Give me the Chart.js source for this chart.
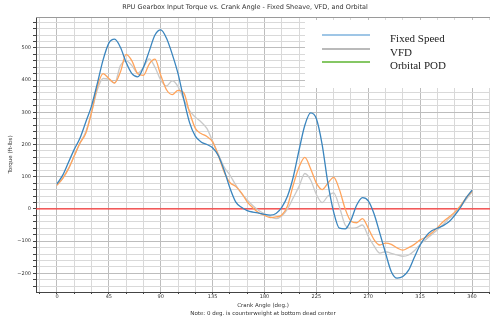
<!DOCTYPE html>
<html>
<head>
<meta charset="utf-8">
<script src="https://cdn.jsdelivr.net/npm/chart.js@4"></script>
<style>
  body { margin: 0; background: #fff; }
  #wrap { width: 490px; height: 320px; position: relative; }
</style>
</head>
<body>
<div id="wrap"><canvas id="torqueChart"></canvas></div>
<script>
// crank angle, degrees
const crankAngle = [0, 5, 10, 15, 20, 25, 30, 35, 40, 45, 50, 55, 60, 65, 70, 75, 80, 85, 90, 95,
    100, 105, 110, 115, 120, 125, 130, 135, 140, 145, 150, 155, 160, 165, 170, 175, 180, 185, 190, 195,
    200, 205, 210, 215, 220, 225, 230, 235, 240, 245, 250, 255, 260, 265, 270, 275, 280, 285, 290, 295,
    300, 305, 310, 315, 320, 325, 330, 335, 340, 345, 350, 355, 360];

const fixedSpeed = [78, 105, 145, 185, 220, 270, 320, 390, 463, 515, 527, 502, 455, 420, 410, 440, 490, 540, 556, 530,
    480, 420, 340, 268, 226, 208, 200, 190, 165, 120, 65, 22, 5, -5, -10, -13, -17, -19, -14, 5,
    40, 100, 183, 260, 298, 280, 200, 80, -10, -60, -62, -35, 12, 35, 25, -15, -75, -137, -195, -215,
    -210, -190, -150, -112, -85, -68, -60, -52, -40, -20, 5, 35, 58];

const vfdOrange = [73, 95, 125, 165, 205, 235, 300, 380, 420, 405, 391, 425, 480, 460, 420, 415, 450, 465, 415, 370,
    355, 368, 360, 300, 250, 234, 225, 208, 165, 115, 82, 70, 50, 22, 3, -12, -20, -27, -25, -19,
    10, 75, 130, 160, 125, 80, 60, 80, 98, 60, 0, -38, -43, -30, -60, -95, -112, -106, -110, -121,
    -128, -120, -110, -96, -88, -75, -58, -40, -25, -10, 10, 35, 55];

const orbitalGray = [75, 95, 125, 165, 205, 240, 300, 370, 405, 402, 391, 445, 460, 445, 422, 440, 466, 440, 400, 382,
    398, 380, 340, 305, 285, 270, 250, 210, 170, 130, 105, 75, 48, 28, 10, -5, -15, -25, -30, -22,
    0, 35, 70, 110, 90, 45, 20, 40, 50, 6, -50, -60, -58, -50, -85, -115, -137, -133, -138, -143,
    -147, -143, -130, -110, -95, -80, -65, -48, -30, -15, 5, 30, 52];

const xTickLabels = [0, 45, 90, 135, 180, 225, 270, 315, 360];
const yTickLabels = [-200, -100, 0, 100, 200, 300, 400, 500];
const legendLabels = ['Fixed Speed', 'VFD', 'Orbital POD'];
const legendColors = ['#7fb3de', '#a3a3a3', '#5cb531'];

const toPoints = vals => crankAngle.map((a, i) => ({ x: a, y: vals[i] }));

const xMinor = [];
for (let v = -15; v <= 375; v += 15) xMinor.push(v);
const yMinor = [];
for (let v = -240; v <= 580; v += 20) yMinor.push(v);

// red zero line
const zeroLine = {
    id: 'zeroLine',
    beforeDatasetsDraw(chart) {
        const { ctx, chartArea, scales } = chart;
        const y = scales.y.getPixelForValue(0);
        ctx.save();
        ctx.strokeStyle = '#ff3b3b';
        ctx.lineWidth = 1.4;
        ctx.beginPath();
        ctx.moveTo(chartArea.left, y);
        ctx.lineTo(chartArea.right, y);
        ctx.stroke();
        // top spine
        ctx.strokeStyle = '#9a9a9a';
        ctx.lineWidth = 1;
        ctx.beginPath();
        ctx.moveTo(chartArea.left, chartArea.top + 0.5);
        ctx.lineTo(chartArea.right, chartArea.top + 0.5);
        ctx.stroke();
        ctx.restore();
    }
};

// legend box inside the plot, top right
const boxLegend = {
    id: 'boxLegend',
    afterDraw(chart) {
        const { ctx } = chart;
        ctx.save();
        ctx.fillStyle = '#fff';
        ctx.fillRect(305, 20, 190, 68);
        ctx.font = '11px "Liberation Serif", "Times New Roman", serif';
        ctx.textBaseline = 'middle';
        ctx.textAlign = 'left';
        const rows = [35, 49, 62];
        legendLabels.forEach((lab, i) => {
            ctx.strokeStyle = legendColors[i];
            ctx.lineWidth = 1.5;
            ctx.beginPath();
            ctx.moveTo(322, rows[i]);
            ctx.lineTo(370, rows[i]);
            ctx.stroke();
            ctx.fillStyle = '#222';
            ctx.fillText(lab, 390, rows[i] + 4);
        });
        ctx.restore();
    }
};

const ctx = document.getElementById('torqueChart').getContext('2d');
new Chart(ctx, {
    type: 'line',
    data: {
        datasets: [
            { label: 'Fixed Speed', data: toPoints(fixedSpeed), borderColor: '#3a85be', order: 1 },
            { label: 'VFD', data: toPoints(vfdOrange), borderColor: '#ffa45c', order: 2 },
            { label: 'Orbital POD', data: toPoints(orbitalGray), borderColor: '#c9c9c9', order: 3 }
        ]
    },
    options: {
        responsive: true,
        maintainAspectRatio: false,
        animation: false,
        layout: { padding: 0 },
        elements: {
            point: { radius: 0 },
            line: { borderWidth: 1.3, cubicInterpolationMode: 'monotone', fill: false }
        },
        plugins: {
            legend: { display: false },
            tooltip: { enabled: false },
            title: {
                display: true,
                text: 'RPU Gearbox Input Torque vs. Crank Angle - Fixed Sheave, VFD, and Orbital',
                color: '#333',
                font: { family: 'DejaVu Sans', size: 6.5, weight: 'normal', lineHeight: 1.2 },
                padding: { top: 3, bottom: 6.2 }
            }
        },
        scales: {
            x: {
                type: 'linear',
                min: -18.2,
                max: 375.6,
                afterBuildTicks: s => { s.ticks = xMinor.map(v => ({ value: v })); },
                afterFit: s => { s.height = 28; },
                ticks: {
                    autoSkip: false,
                    maxRotation: 0,
                    padding: 0,
                    color: '#333',
                    font: { family: 'DejaVu Sans', size: 5 },
                    callback: v => xTickLabels.includes(v) ? String(v) : ''
                },
                grid: {
                    color: c => (c.tick && c.tick.value % 45 === 0) ? '#bdbdbd' : '#d9d9d9',
                    tickColor: '#444',
                    tickLength: 2
                },
                border: { color: '#444', width: 1 },
                title: {
                    display: true,
                    text: ['Crank Angle (deg.)', 'Note: 0 deg. is counterweight at bottom dead center'],
                    color: '#333',
                    font: { family: 'DejaVu Sans', size: 5.5, lineHeight: 1.45 },
                    padding: { top: 0, bottom: 2 }
                }
            },
            y: {
                min: -258,
                max: 596,
                afterBuildTicks: s => { s.ticks = yMinor.map(v => ({ value: v })); },
                afterFit: s => { s.width = 36; },
                ticks: {
                    autoSkip: false,
                    padding: 2,
                    color: '#333',
                    font: { family: 'DejaVu Sans', size: 5 },
                    callback: v => yTickLabels.includes(v) ? (v < 0 ? '\u2212' + Math.abs(v) : String(v)) : ''
                },
                grid: {
                    color: c => (c.tick && c.tick.value % 100 === 0) ? '#bdbdbd' : '#d9d9d9',
                    tickColor: '#444',
                    tickLength: 3
                },
                border: { color: '#444', width: 1 },
                title: {
                    display: true,
                    text: 'Torque (ft-lbs)',
                    color: '#333',
                    font: { family: 'DejaVu Sans', size: 5.5 },
                    padding: { top: 7, bottom: 0 }
                }
            }
        }
    },
    plugins: [zeroLine, boxLegend]
});
</script>
</body>
</html>
